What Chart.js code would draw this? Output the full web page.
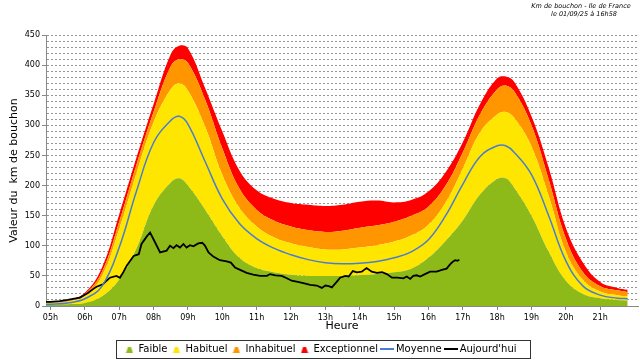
<!DOCTYPE html>
<html>
<head>
<meta charset="utf-8">
<script src="https://cdn.jsdelivr.net/npm/chart.js@4"></script>
<style>
  body { margin: 0; background: #fff; }
</style>
</head>
<body>
<canvas id="grafica" width="640" height="360"></canvas>
<script>
    // heures (décimales) des bornes des zones
    const hours        = [4.87, 5, 5.5, 6, 6.5, 7, 7.5, 8, 8.5, 8.75, 9, 9.5, 10, 10.5, 11, 11.5, 12, 12.5, 13, 13.5, 14, 14.5, 15, 15.5, 16, 16.5, 17, 17.5, 18, 18.25, 18.5, 19, 19.5, 20, 20.5, 21, 21.5, 21.8];
    const faible       = [2, 2, 3, 5, 16, 44, 95, 167, 205, 212, 200, 160, 116, 80, 63, 56, 52, 50, 50, 50, 51, 53, 56, 62, 80, 108, 142, 185, 211, 212, 196, 150, 90, 42, 20, 13, 10, 9];
    const habituel     = [5, 5, 7, 17, 50, 128, 220, 305, 360, 370, 358, 298, 218, 163, 132, 114, 104, 98, 94, 94, 97, 101, 107, 117, 135, 172, 228, 288, 318, 322, 312, 265, 183, 90, 43, 24, 18, 16];
    const inhabituel   = [7, 7, 9, 20, 57, 140, 234, 322, 398, 410, 404, 343, 262, 195, 160, 142, 132, 126, 123, 125, 130, 134, 140, 150, 165, 200, 255, 318, 360, 366, 356, 300, 210, 112, 56, 33, 26, 23];
    const exceptionnel = [8, 8, 10, 22, 64, 152, 246, 335, 418, 432, 428, 362, 290, 225, 192, 178, 171, 168, 166, 168, 173, 175, 172, 176, 190, 222, 272, 335, 378, 381, 372, 315, 230, 130, 72, 40, 30, 27];
    const moyenne      = [3, 3, 5, 12, 33, 97, 190, 271, 308, 315, 302, 240, 178, 137, 112, 96, 85, 77, 72, 70, 71, 74, 80, 90, 110, 150, 202, 248, 266, 266, 255, 218, 150, 75, 33, 18, 13, 12];

    // courbe du jour
    const todayHours = [4.87, 5.0, 5.27, 5.5, 5.66, 5.86, 6.1, 6.24, 6.34, 6.53, 6.63, 6.73, 6.92, 7.02, 7.12, 7.22, 7.42, 7.57, 7.65, 7.81, 7.9, 8.05, 8.19, 8.38, 8.48, 8.58, 8.67, 8.77, 8.87, 8.96, 9.06, 9.16, 9.3, 9.42, 9.5, 9.6, 9.74, 9.84, 9.93, 10.13, 10.25, 10.37, 10.52, 10.71, 10.9, 11.1, 11.3, 11.39, 11.55, 11.73, 11.88, 12.02, 12.2, 12.36, 12.56, 12.75, 12.9, 13.0, 13.1, 13.19, 13.33, 13.43, 13.58, 13.68, 13.8, 13.92, 14.06, 14.2, 14.35, 14.5, 14.65, 14.79, 14.94, 15.1, 15.27, 15.37, 15.47, 15.56, 15.66, 15.76, 15.9, 16.05, 16.24, 16.39, 16.53, 16.63, 16.7, 16.78, 16.85, 16.9];
    const today      = [7, 7, 8, 10, 12, 14, 22, 28, 32, 36, 42, 47, 50, 47, 56, 67, 83, 86, 103, 116, 122, 105, 89, 92, 100, 96, 101, 97, 103, 97, 101, 99, 104, 105, 100, 89, 82, 79, 76, 74, 72, 64, 60, 55, 52, 50, 50, 53, 51, 50, 46, 42, 40, 38, 35, 34, 30, 34, 33, 31, 40, 47, 50, 49, 58, 56, 57, 63, 57, 55, 56, 53, 47, 47, 46, 49, 45, 50, 51, 49, 53, 57, 57, 60, 62, 69, 73, 76, 75, 77];

    const xTickHours = [5, 6, 7, 8, 9, 10, 11, 12, 13, 14, 15, 16, 17, 18, 19, 20, 21];
    const titleLines = ["Km de bouchon - Ile de France", "le 01/09/25 à 16h58"];

    const pts = (xs, ys) => xs.map((x, i) => ({x: x, y: ys[i]}));

    // petites icônes de légende
    function hillIcon(color) {
        const c = document.createElement("canvas");
        c.width = 8; c.height = 8;
        const g = c.getContext("2d");
        g.fillStyle = color;
        g.beginPath();
        g.moveTo(0.5, 8); g.lineTo(2.5, 2); g.lineTo(5.5, 2); g.lineTo(7.5, 8);
        g.closePath(); g.fill();
        return c;
    }
    function lineIcon(color) {
        const c = document.createElement("canvas");
        c.width = 14; c.height = 2;
        const g = c.getContext("2d");
        g.fillStyle = color;
        g.fillRect(0, 0, 14, 2);
        return c;
    }

    const GREEN = "rgb(141,186,24)", YELLOW = "rgb(255,230,0)", ORANGE = "rgb(255,150,0)", RED = "rgb(255,0,0)";
    const BLUE = "rgb(74,125,210)";

    Chart.defaults.font.family = "'DejaVu Sans', sans-serif";
    Chart.defaults.color = "#000";

    const cornerTitle = {
        id: "cornerTitle",
        afterDraw(chart) {
            const ctx = chart.ctx;
            ctx.save();
            ctx.font = "italic 6.5px 'DejaVu Sans'";
            ctx.fillStyle = "#000";
            ctx.textAlign = "center";
            ctx.textBaseline = "middle";
            ctx.fillText(titleLines[0], 581, 6);
            ctx.fillText(titleLines[1], 584, 14);
            ctx.restore();
        }
    };

    const legendBox = {
        id: "legendBox",
        afterDraw(chart) {
            const hb = chart.legend.legendHitBoxes;
            if (!hb || !hb.length) return;
            const last = hb[hb.length - 1];
            const left = hb[0].left - 9, right = last.left + last.width + 14;
            const top = hb[0].top - 4, bottom = hb[0].top + hb[0].height + 4;
            const ctx = chart.ctx;
            ctx.save();
            ctx.strokeStyle = "#333";
            ctx.lineWidth = 1;
            ctx.strokeRect(Math.round(left) + 0.5, Math.round(top) + 0.5, Math.round(right - left), Math.round(bottom - top));
            ctx.restore();
        }
    };

    const area = (label, data, color, fill) => ({
        label: label, data: data, backgroundColor: color, borderColor: color,
        borderWidth: 0, pointRadius: 0, fill: fill, order: 1,
        tension: 0.4, pointStyle: hillIcon(color)
    });

    let grafica = document.getElementById("grafica").getContext("2d");

    var chart = new Chart(grafica, {
        type: "line",
        data: {
            datasets: [
                area("Faible", pts(hours, faible), GREEN, "origin"),
                area("Habituel", pts(hours, habituel), YELLOW, "-1"),
                area("Inhabituel", pts(hours, inhabituel), ORANGE, "-1"),
                area("Exceptionnel", pts(hours, exceptionnel), RED, "-1"),
                {
                    label: "Moyenne", data: pts(hours, moyenne), borderColor: BLUE, backgroundColor: BLUE,
                    borderWidth: 1.5, pointRadius: 0, fill: false, order: 0,
                    tension: 0.4, pointStyle: lineIcon(BLUE)
                },
                {
                    label: "Aujourd'hui", data: pts(todayHours, today), borderColor: "#000", backgroundColor: "#000",
                    borderWidth: 1.8, pointRadius: 0, fill: false, order: 0, tension: 0,
                    pointStyle: lineIcon("#000")
                }
            ]
        },
        options: {
            responsive: false,
            animation: false,
            layout: { padding: { left: 4, right: 2, top: 35, bottom: -4 } },
            plugins: {
                title: { display: false },
                tooltip: { enabled: false },
                legend: {
                    position: "bottom",
                    labels: {
                        usePointStyle: true,
                        boxWidth: 8, boxHeight: 8,
                        padding: 5,
                        font: { size: 10 },
                        color: "#000",
                        sort: (a, b) => a.datasetIndex - b.datasetIndex
                    }
                }
            },
            scales: {
                x: {
                    type: "linear",
                    min: 4.87, max: 22.1,
                    z: 1,
                    afterBuildTicks: (s) => { s.ticks = xTickHours.map(v => ({value: v})); },
                    afterFit: (s) => { s.height = 33; },
                    ticks: {
                        font: { size: 8 },
                        padding: 3,
                        autoSkip: false,
                        maxRotation: 0,
                        callback: (v) => String(v).padStart(2, "0") + "h"
                    },
                    grid: { drawOnChartArea: false, drawTicks: true, tickLength: 4, tickColor: "#888" },
                    border: { color: "#888", width: 1 },
                    title: { display: true, text: "Heure", font: { size: 11 }, padding: { top: 0, bottom: 6 } }
                },
                y: {
                    min: 0, max: 450,
                    z: 1,
                    afterFit: (s) => { s.width = 42; },
                    ticks: {
                        stepSize: 10,
                        autoSkip: false,
                        font: { size: 8 },
                        padding: 2,
                        callback: (v) => (v % 50 === 0 ? v : "")
                    },
                    grid: {
                        color: "rgba(130,130,130,0.85)",
                        lineWidth: 1,
                        tickLength: 4,
                        tickColor: (c) => (c.tick && c.tick.value % 50 === 0 ? "#888" : "rgba(0,0,0,0)")
                    },
                    border: { color: "#888", width: 1, dash: [2, 2] },
                    title: { display: true, text: "Valeur du  km de bouchon", font: { size: 11 }, padding: { top: 4, bottom: 0 } }
                }
            }
        },
        plugins: [cornerTitle, legendBox]
    });
</script>
</body>
</html>
